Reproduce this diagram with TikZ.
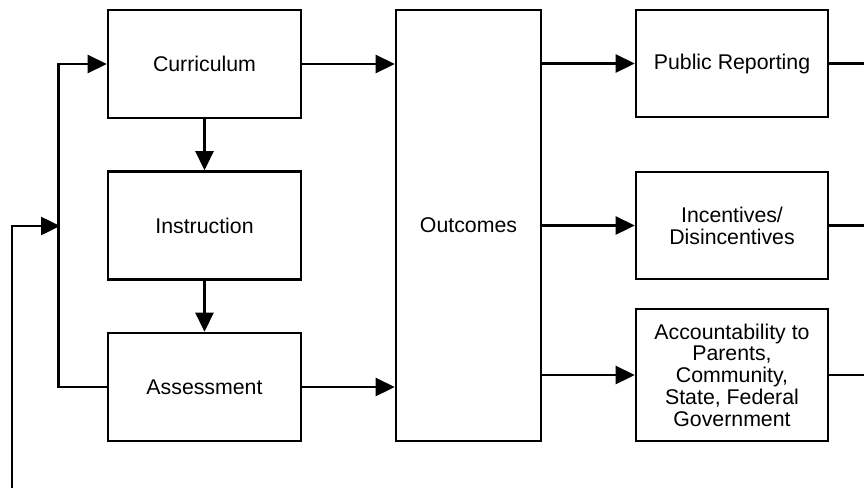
\documentclass[tikz,border=0pt]{standalone}
\usepackage{fontspec}
\setmainfont{Liberation Sans}
\usetikzlibrary{arrows.meta}
\begin{document}
\begin{tikzpicture}[x=1pt,y=-1pt,
  box/.style={draw=black,line width=2.6pt,fill=white,align=center,inner sep=0pt,
    font=\fontsize{21.3}{21.8}\selectfont},
  conn/.style={line width=2.6pt,draw=black},
  arr/.style={conn,-{Triangle[length=19pt,width=18pt]}}]
\useasboundingbox (0,0) rectangle (864,488);
% left column
\node[box,minimum width=193pt,minimum height=108pt] (cur) at (204.5,64) {Curriculum};
\node[box,minimum width=193pt,minimum height=108pt] (ins) at (204.5,225.5) {Instruction};
\node[box,minimum width=193pt,minimum height=108pt] (ass) at (204.5,387) {Assessment};
% middle
\node[box,minimum width=145pt,minimum height=431pt] (out) at (468.5,225.5) {Outcomes};
% right column
\node[box,minimum width=192pt,minimum height=107pt] (pub) at (732,63.5) {Public Reporting};
\node[box,minimum width=192pt,minimum height=107pt] (inc) at (732,225.5) {Incentives/\\Disincentives};
\node[box,minimum width=192pt,minimum height=132pt] (acc) at (732,375) {Accountability to\\Parents,\\Community,\\State, Federal\\Government};
% coordinates
\coordinate (fbstart) at (12,488);
\coordinate (join) at (60,226);
\coordinate (e1) at (864,63.5);
\coordinate (e2) at (864,225.5);
\coordinate (e3) at (864,375);
% connectors
\draw[arr] (cur.south) -- (ins.north);
\draw[arr] (ins.south) -- (ass.north);
\draw[arr] (ass.west) -- ++(-48,0) |- (cur.west);
\draw[arr] (fbstart) |- (join);
\draw[arr] (cur.east) -- (cur.east -| out.west);
\draw[arr] (ass.east) -- (ass.east -| out.west);
\draw[arr] (pub.west -| out.east) -- (pub.west);
\draw[arr] (inc.west -| out.east) -- (inc.west);
\draw[arr] (acc.west -| out.east) -- (acc.west);
\draw[conn] (pub.east) -- (e1);
\draw[conn] (inc.east) -- (e2);
\draw[conn] (acc.east) -- (e3);
\end{tikzpicture}
\end{document}
